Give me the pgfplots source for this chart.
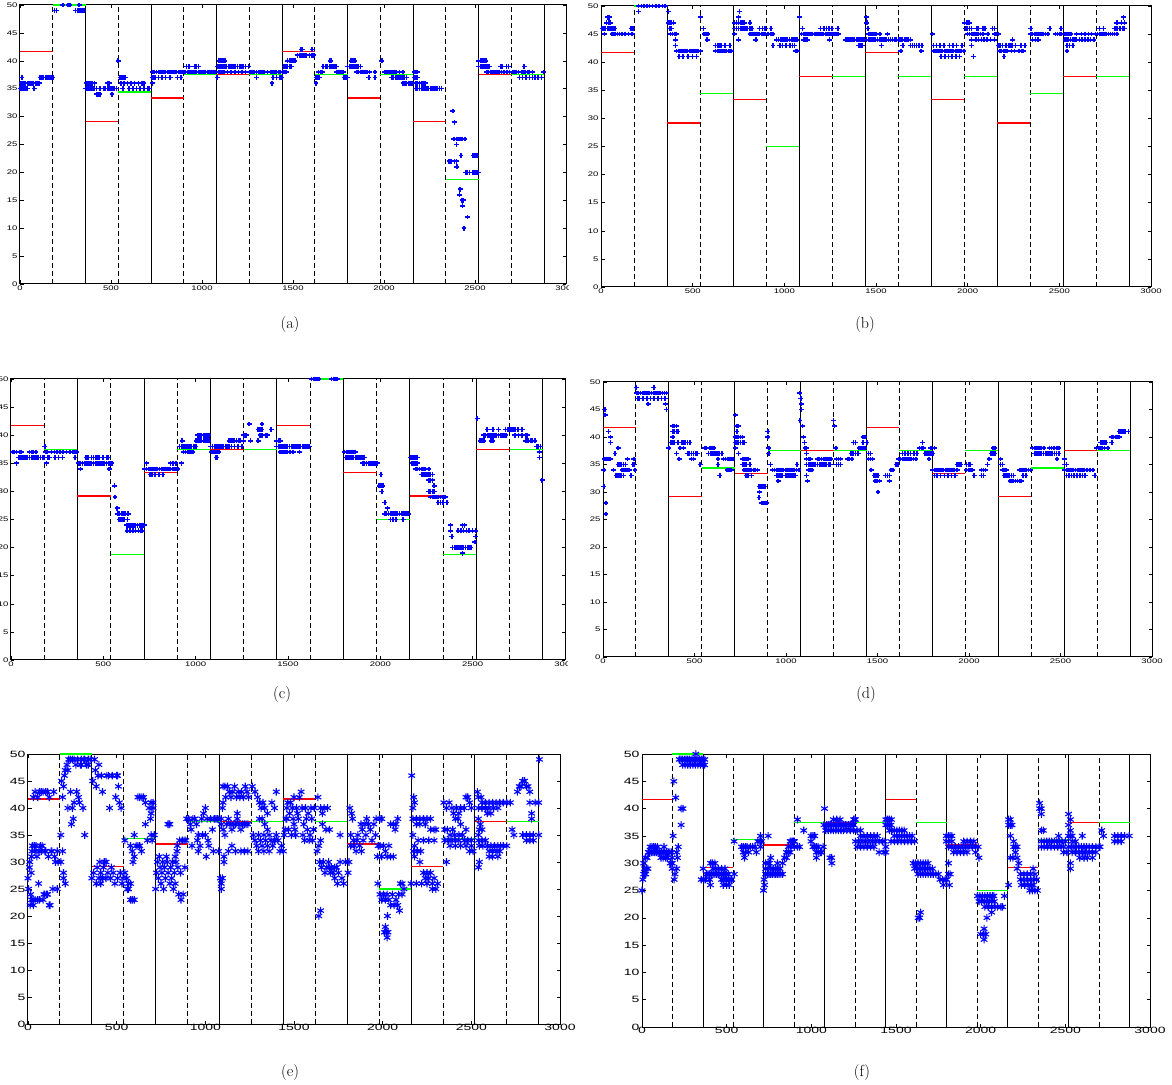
\documentclass[border=0pt]{standalone}
\usepackage{fontspec}
\usepackage{pgfplots}
\usepackage{pgfplotstable}
\usepackage{graphicx}
\pgfplotsset{compat=1.18}
\newfontfamily\hel{Liberation Sans}

\pgfplotstableread{
x y
360 0
360 50
360 nan
720 0
720 50
720 nan
1080 0
1080 50
1080 nan
1440 0
1440 50
1440 nan
1800 0
1800 50
1800 nan
2160 0
2160 50
2160 nan
2520 0
2520 50
2520 nan
2880 0
2880 50
}\solidtab
\pgfplotstableread{
x y
180 0
180 50
180 nan
540 0
540 50
540 nan
900 0
900 50
900 nan
1260 0
1260 50
1260 nan
1620 0
1620 50
1620 nan
1980 0
1980 50
1980 nan
2340 0
2340 50
2340 nan
2700 0
2700 50
}\dashtab
\pgfplotstableread{
x y
0 41.67
180 41.67
180 nan
360 29.17
540 29.17
540 nan
720 33.33
900 33.33
900 nan
1080 37.5
1260 37.5
1260 nan
1440 41.67
1620 41.67
1620 nan
1800 33.33
1980 33.33
1980 nan
2160 29.17
2340 29.17
2340 nan
2520 37.5
2700 37.5
}\redtab

\definecolor{mred}{rgb}{1,0,0}
\definecolor{mgreen}{rgb}{0,1,0}

\pgfplotsset{
  panel/.style={scale only axis, anchor=south west,
    xmin=0, xmax=3000, ymin=0, ymax=50,
    xtick={0,500,...,3000}, ytick={0,5,...,50},
    tick align=inside, major tick length=3.5pt,
    axis line style={line width=1pt, black},
    tick style={line width=0.5pt, black},
    clip=false, unbounded coords=jump,
    /pgf/number format/assume math mode=true,
    /pgf/number format/1000 sep={},
  },
  small/.style={tick label style={font=\hel\fontsize{9.5}{10}\selectfont},
    xticklabel={\scalebox{1}[0.7]{\pgfmathprintnumber{\tick}}},
    yticklabel={\scalebox{1}[0.7]{\pgfmathprintnumber{\tick}}},
    xticklabel style={yshift=2pt}, yticklabel style={xshift=1pt}},
  big/.style={tick label style={font=\hel\fontsize{14}{15}\selectfont},
    xticklabel={\scalebox{1}[0.65]{\pgfmathprintnumber{\tick}}},
    yticklabel={\scalebox{1}[0.65]{\pgfmathprintnumber{\tick}}},
    xticklabel style={yshift=3pt}, yticklabel style={xshift=1pt}},
  vsolid/.style={black, line width=0.9pt},
  vdash/.style={black, line width=0.9pt, dash pattern=on 5pt off 3pt},
  redl/.style={mred, line width=1.3pt},
  greenl/.style={mgreen, line width=1.3pt},
  bplus/.style={only marks, mark=+, blue, mark size=2.4pt, mark options={line width=1.6pt}},
  bstar/.style={only marks, mark=asterisk, blue, mark size=3.8pt, mark options={line width=1.1pt}},
}

\begin{document}
\begin{tikzpicture}
\useasboundingbox (0pt,0pt) rectangle (1172pt,1084pt);

% ---------------- (a)
\begin{axis}[panel, small, at={(20pt,800pt)}, width=546pt, height=279pt]
\addplot[vsolid] table {\solidtab};
\addplot[vdash] table {\dashtab};
\addplot[redl] table {\redtab};
\addplot[greenl] coordinates {(180,50)(360,50)(360,nan)(540,34.38)(720,34.38)(720,nan)(900,37.5)(1080,37.5)(1080,nan)(1260,37.5)(1440,37.5)(1440,nan)(1620,37.5)(1800,37.5)(1800,nan)(1980,37.5)(2160,37.5)(2160,nan)(2340,18.75)(2520,18.75)(2520,nan)(2700,37.5)(2880,37.5)};
\addplot[bplus] coordinates {
(0,35)(5,35)(10,35)(15,35)(20,35)(25,35)(30,35)(35,35)(40,35)
(5,36)(12,36)(20,36)(28,36)(45,36)(55,36)(65,36)(75,36)(85,36)(95,36)(105,36)
(10,37)(78,35)(110,37)(120,37)(130,37)(140,37)(150,37)(160,37)(170,37)(180,37)
(190,49)(200,49)(235,50)(265,50)(275,50)(325,50)(305,49)(315,49)(325,49)(335,49)(345,49)(352,49)
(362,35)(370,35)(380,35)(390,35)(400,35)(410,35)(420,35)(440,35)(460,35)(470,35)(480,35)(490,35)(500,35)(510,35)(520,35)(530,35)
(365,36)(375,36)(385,36)(395,36)(410,36)(420,34)(430,34)(440,34)(480,36)(490,36)(505,34)(540,40)
(550,37)(560,37)(570,37)(580,37)(555,36)(570,36)(590,36)(610,36)(630,36)(650,36)(670,36)(680,36)(600,35)(620,35)(640,35)(660,35)(680,35)(700,35)(710,35)(565,35)
(730,38)(740,38)(750,38)(760,38)(770,38)(780,38)(790,38)(800,38)(810,38)(820,38)(830,38)(840,38)(850,38)(860,38)(870,38)(880,38)(890,38)(900,38)
(725,37)(735,37)(745,37)(760,37)(780,37)(800,37)(825,37)(865,37)(885,37)(728,36)
(915,39)(930,39)(960,39)(970,39)(980,39)
(910,38)(920,38)(930,38)(940,38)(950,38)(960,38)(970,38)(980,38)(990,38)(1000,38)(1010,38)(1020,38)(1030,38)(1040,38)(1050,38)(1060,38)(1070,38)
(1095,40)(1105,40)(1115,40)(1125,40)
(1085,39)(1095,39)(1105,39)(1115,39)(1125,39)(1135,39)(1145,39)(1155,39)(1165,39)(1175,39)(1185,39)(1195,39)(1205,39)(1215,39)(1225,39)(1240,39)(1255,39)
(1090,38)(1100,38)(1110,38)(1120,38)(1140,38)(1160,38)(1180,38)(1200,38)(1220,38)(1240,38)(1083,37)
(1265,38)(1275,38)(1285,38)(1300,38)(1310,38)(1320,38)(1330,38)(1340,38)(1360,38)(1380,38)(1390,38)(1400,38)(1410,38)(1420,38)(1430,38)
(1300,37)(1390,37)(1410,37)(1430,37)(1385,36)
(1440,37)(1445,38)(1455,38)(1465,38)(1450,39)(1460,39)(1470,39)(1480,39)(1490,39)(1470,40)(1480,40)(1490,40)(1500,40)(1510,40)
(1525,41)(1535,41)(1545,41)(1555,41)(1565,41)(1575,41)(1590,41)(1605,41)(1615,41)(1545,42)(1552,42)(1605,42)
(1626,36)(1626,37)(1636,37)(1646,37)(1650,38)(1660,38)(1665,39)(1680,39)(1690,39)(1700,39)(1710,39)(1720,39)(1730,39)(1740,39)(1703,40)(1708,40)
(1738,38)(1748,38)(1758,38)(1768,38)(1778,38)(1780,37)(1790,37)(1798,37)(1640,38)
(1800,39)(1810,39)(1820,39)(1830,39)(1840,39)(1850,39)(1860,39)(1870,39)(1820,40)(1830,40)(1840,40)
(1850,38)(1860,38)(1870,38)(1880,38)(1890,38)(1900,38)(1910,38)(1920,38)(1917,37)(1951,37)(1951,38)
(1988,40)(2002,38)(2012,38)(2022,38)(2032,38)(2045,38)(2055,38)(2065,38)(2085,38)(2104,38)
(2043,37)(2053,37)(2063,37)(2073,37)(2083,37)(2093,37)(2103,37)(2113,37)(2124,37)(2104,36)(2114,36)(2124,36)(2134,36)(2144,36)(2154,36)
(2165,38)(2175,38)(2185,38)(2165,37)(2175,37)(2185,37)(2175,36)(2185,36)(2195,36)(2205,36)(2215,36)(2226,36)
(2175,35)(2185,35)(2195,35)(2205,35)(2215,35)(2225,35)(2235,35)(2245,35)(2255,35)(2265,35)(2275,35)(2285,35)(2295,35)(2305,35)(2317,35)
(2378,31)(2388,29)(2384,26)(2398,26)(2408,26)(2418,26)(2428,26)(2445,26)(2398,25)(2423,23)(2358,22)(2368,22)(2388,22)(2398,22)(2400,21)
(2419,17)(2415,16)(2429,15)(2435,15)(2432,14)(2459,12)(2439,10)(2449,20)(2459,20)(2469,20)(2490,20)(2500,20)(2510,20)(2520,20)(2490,23)(2500,23)(2510,23)
(2520,40)(2530,40)(2540,40)(2550,40)(2560,40)(2520,39)(2530,39)(2540,39)(2550,39)(2560,39)(2570,39)(2580,39)
(2565,38)(2575,38)(2585,38)(2595,38)(2605,38)(2615,38)(2625,38)(2635,38)(2645,38)(2660,38)(2675,38)(2690,38)(2642,39)(2652,39)(2672,39)(2683,39)
(2705,38)(2715,38)(2725,38)(2740,38)(2755,38)(2765,38)(2775,38)(2790,38)(2800,38)(2815,38)(2770,39)
(2745,37)(2760,37)(2780,37)(2800,37)(2815,37)(2830,37)(2845,37)(2866,37)(2876,38)
};
\end{axis}

% ---------------- (b)
\begin{axis}[panel, small, at={(601pt,797pt)}, width=550pt, height=281pt]
\addplot[vsolid] table {\solidtab};
\addplot[vdash] table {\dashtab};
\addplot[redl] table {\redtab};
\addplot[greenl] coordinates {(180,50)(360,50)(360,nan)(540,34.38)(720,34.38)(720,nan)(900,25)(1080,25)(1080,nan)(1260,37.5)(1440,37.5)(1440,nan)(1620,37.5)(1800,37.5)(1800,nan)(1980,37.5)(2160,37.5)(2160,nan)(2340,34.38)(2520,34.38)(2520,nan)(2700,37.5)(2880,37.5)};
\addplot[bplus] coordinates {
(5,46)(15,46)(25,46)(35,46)(45,46)(55,46)(65,46)(75,46)(30,47)(40,47)(50,47)(35,48)(45,48)
(20,45)(60,45)(70,45)(80,45)(90,45)(100,45)(115,45)(130,45)(150,45)(170,45)(165,46)(175,46)
(205,49)(205,50)(220,50)(235,50)(250,50)(265,50)(280,50)(300,50)(315,50)(335,50)(350,50)
(369,49)(365,47)(375,47)(385,47)(395,47)(375,46)(385,46)(380,45)(390,45)(400,45)(410,45)(406,44)(406,43)
(412,42)(422,42)(432,42)(442,42)(452,42)(462,42)(472,42)(482,42)(492,42)(502,42)(512,42)(522,42)(532,42)(542,42)
(427,41)(447,41)(475,41)(500,41)(521,41)
(542,48)(558,46)(562,45)(572,45)(583,45)(579,44)
(625,43)(635,43)(645,43)(655,43)(677,43)(704,43)
(625,42)(635,42)(645,42)(655,42)(665,42)(675,42)(685,42)(695,42)(705,42)(712,42)
(729,45)(729,47)(739,47)(749,47)(760,47)(770,47)(781,47)(750,48)(756,49)(729,46)(740,46)(750,46)(760,46)(770,46)(780,46)(790,46)(800,46)(813,46)(823,46)(813,47)
(813,45)(825,45)(835,45)(845,45)(855,45)(865,45)(875,45)(885,45)(895,45)(910,45)(925,45)(938,45)(750,44)(844,44)(865,46)(880,46)(896,46)
(938,43)(958,44)(968,44)(978,44)(988,44)(998,44)(1008,44)(1018,44)(1028,44)(1038,44)(1048,44)(1058,44)(1068,44)
(975,43)(990,43)(1010,43)(1030,43)(1045,43)(1055,43)(1063,42)(1070,42)(927,45)(927,46)
(1083,48)(1098,46)(1094,45)(1104,45)(1114,45)(1124,45)(1134,45)(1144,45)(1154,45)(1164,45)(1174,45)(1184,45)(1194,45)(1204,45)(1214,45)(1224,45)(1234,45)(1244,45)(1254,45)(1264,45)
(1104,44)(1114,44)(1125,44)(1198,46)(1215,46)(1230,46)(1245,46)(1260,46)(1246,44)
(1292,46)(1276,45)(1286,45)(1296,45)(1333,44)(1343,44)(1353,44)(1363,44)(1373,44)(1383,44)(1393,44)(1403,44)(1413,44)(1423,44)(1433,44)(1406,43)(1418,43)(1427,43)
(1448,48)(1450,47)(1455,46)(1458,45)(1468,45)(1478,45)(1488,45)(1500,45)(1521,45)
(1448,44)(1458,44)(1468,44)(1478,44)(1488,44)(1498,44)(1508,44)(1518,44)(1528,44)(1538,44)(1548,44)(1558,44)(1568,44)(1578,44)(1590,44)(1600,44)(1610,44)(1625,44)(1531,43)(1563,45)
(1635,44)(1645,44)(1655,44)(1665,44)(1675,44)(1688,44)(1646,43)(1688,43)(1700,43)(1710,43)(1720,43)(1735,43)(1750,43)(1635,42)(1746,42)
(1808,45)(1813,43)(1830,43)(1850,43)(1870,43)(1900,43)(1920,43)(1940,43)(1969,43)
(1813,42)(1823,42)(1833,42)(1843,42)(1853,42)(1863,42)(1873,42)(1883,42)(1893,42)(1903,42)(1913,42)(1923,42)(1933,42)(1943,42)(1953,42)(1965,42)(1979,42)
(1855,41)(1875,41)(1895,41)(1915,41)(1935,41)(1955,41)
(1983,47)(1993,47)(2003,47)(2010,47)(1990,46)(2000,46)(2010,46)(2020,46)(2050,46)(2060,46)(2085,46)(2094,46)
(2000,45)(2010,45)(2020,45)(2030,45)(2040,45)(2050,45)(2060,45)(2070,45)(2083,45)(2021,44)(2021,43)(2031,41)
(2045,44)(2060,44)(2075,44)(2090,44)(2105,44)(2125,44)(2135,46)(2146,46)(2146,45)(2156,45)(2168,45)(2146,44)(2110,45)
(2167,43)(2177,43)(2190,43)(2210,43)(2225,43)(2235,43)(2245,43)(2260,43)(2290,43)(2313,43)
(2175,42)(2185,42)(2195,42)(2205,42)(2215,42)(2240,42)(2255,42)(2280,42)(2295,42)(2305,42)(2198,41)(2244,44)
(2344,46)(2344,45)(2354,45)(2364,45)(2374,45)(2384,45)(2394,45)(2404,45)(2414,45)(2424,45)(2437,45)(2354,44)(2370,44)(2385,44)
(2448,46)(2479,45)(2489,45)(2500,45)(2510,45)(2510,46)
(2531,45)(2542,45)(2552,45)(2563,45)(2531,44)(2541,44)(2551,44)(2561,44)(2571,44)(2581,44)(2591,44)(2610,44)(2625,44)(2640,44)(2655,44)(2670,44)(2688,44)
(2542,43)(2556,43)(2573,43)(2542,42)(2594,45)(2620,45)(2640,45)(2660,45)(2675,45)(2698,45)
(2708,45)(2718,45)(2728,45)(2738,45)(2748,45)(2758,45)(2768,45)(2778,45)(2790,45)(2800,45)(2813,45)(2719,46)(2740,46)(2813,47)
(2802,46)(2815,46)(2830,46)(2845,46)(2854,46)(2850,48)(2855,47)(2840,47)
};
\end{axis}

% ---------------- (c)
\begin{axis}[panel, small, at={(11pt,424pt)}, width=554pt, height=281pt]
\addplot[vsolid] table {\solidtab};
\addplot[vdash] table {\dashtab};
\addplot[redl] table {\redtab};
\addplot[greenl] coordinates {(180,37.5)(360,37.5)(360,nan)(540,18.75)(720,18.75)(720,nan)(900,37.5)(1080,37.5)(1080,nan)(1260,37.5)(1440,37.5)(1440,nan)(1620,50)(1800,50)(1800,nan)(1980,25)(2160,25)(2160,nan)(2340,18.75)(2520,18.75)(2520,nan)(2700,37.5)(2880,37.5)};
\addplot[bplus] coordinates {
(30,35)(10,37)(20,37)(30,37)(45,37)(55,37)(40,36)(50,36)(60,36)(70,36)(80,36)(90,36)(100,36)(110,36)(120,36)(130,36)(140,36)(150,36)(160,36)(170,36)(179,36)(100,37)(110,37)(120,37)(135,37)
(183,38)(192,35)(188,37)(198,37)(208,36)(220,37)(235,37)(250,37)(238,36)(258,36)(278,36)(265,37)(280,37)(300,37)(320,37)(335,37)(345,37)(357,37)(347,36)(200,36)
(367,35)(377,35)(387,35)(397,35)(407,35)(417,35)(427,35)(437,35)(447,35)(457,35)(467,35)(477,35)(487,35)(497,35)(507,35)(517,35)(527,35)(537,35)(546,35)
(407,36)(417,36)(437,36)(447,36)(457,36)(467,36)(477,36)(497,36)(517,36)(526,36)(377,34)(532,34)
(560,31)(563,29)(575,27)(578,26)(588,26)(598,26)(608,26)(618,26)(635,26)(585,25)(595,25)(605,25)(615,25)(630,25)
(625,24)(635,24)(645,24)(655,24)(665,24)(675,24)(685,24)(695,24)(705,24)(715,24)(724,24)(628,23)(645,23)(660,23)(675,23)(690,23)(705,23)(712,23)
(734,35)(724,34)(734,34)(744,34)(754,34)(764,34)(774,34)(784,34)(794,34)(804,34)(814,34)(824,34)(834,34)(844,34)(854,34)(864,34)(874,34)(884,34)(894,34)(903,34)
(754,33)(764,33)(780,33)(800,33)(823,33)(863,35)(878,35)(893,35)
(923,35)(913,38)(923,38)(933,38)(943,38)(953,38)(963,38)(975,38)(990,38)(1002,38)(927,39)(935,37)(945,37)(955,37)(965,37)(975,37)(985,37)
(1002,39)(1012,39)(1022,39)(1032,39)(1042,39)(1052,39)(1062,39)(1071,39)(1012,40)(1022,40)(1032,40)(1042,40)(1052,40)(1062,40)(1071,40)
(1081,38)(1091,38)(1101,38)(1111,38)(1121,38)(1131,38)(1141,38)(1151,38)(1161,38)(1171,38)(1181,38)(1195,38)(1210,38)(1230,38)(1250,38)
(1085,37)(1095,37)(1105,37)(1115,37)(1125,37)(1111,36)(1116,36)(1181,39)(1191,39)(1201,39)(1211,39)(1221,39)(1231,39)(1240,39)(1260,39)(1260,40)
(1266,40)(1276,40)(1290,42)(1296,39)(1339,41)(1349,41)(1359,41)(1359,42)(1349,40)(1359,40)(1339,39)(1389,40)(1409,41)(1380,40)
(1438,39)(1448,39)(1458,39)(1438,38)(1448,38)(1458,38)(1468,38)(1478,38)(1488,38)(1498,38)(1508,38)(1518,38)(1528,38)(1538,38)(1548,38)(1558,38)(1568,38)(1578,38)(1588,38)(1598,38)(1608,38)(1617,38)
(1458,37)(1468,37)(1478,37)(1488,37)(1498,37)(1510,37)(1528,37)(1563,37)
(1627,50)(1637,50)(1647,50)(1657,50)(1667,50)(1736,50)(1746,50)(1756,50)(1766,50)
(1806,37)(1816,37)(1826,37)(1836,37)(1846,37)(1856,37)(1865,37)(1815,36)(1825,36)(1835,36)(1845,36)(1855,36)(1865,36)(1875,36)(1885,36)(1895,36)(1905,36)(1915,36)
(1905,35)(1915,35)(1925,35)(1935,35)(1945,35)(1955,35)(1965,35)(1975,35)(1984,35)
(2004,33)(1994,31)(2004,31)(2014,31)(2008,30)(2024,28)(2038,27)(2024,26)(2034,26)(2044,26)(2054,26)(2064,26)(2074,26)(2084,26)(2094,26)(2104,26)(2114,26)(2124,26)(2134,26)(2144,26)(2153,26)
(2054,25)(2070,25)(2085,25)(2124,25)
(2163,36)(2173,36)(2183,36)(2193,36)(2202,36)(2173,35)(2183,35)(2193,35)(2202,35)(2192,34)(2202,34)(2212,34)(2222,34)(2232,34)(2242,34)(2262,34)
(2222,33)(2232,33)(2242,33)(2252,33)(2262,33)(2272,33)(2282,33)(2262,32)(2272,32)(2282,32)(2292,31)(2262,30)(2272,30)(2282,30)(2292,30)
(2272,29)(2282,29)(2292,29)(2302,29)(2312,29)(2325,29)(2340,29)(2351,29)(2312,28)(2325,28)(2340,28)(2361,28)
(2381,24)(2381,23)(2387,22)(2391,20)(2401,20)(2411,20)(2421,20)(2431,20)(2441,20)(2451,20)(2461,20)(2471,20)(2481,20)(2490,20)
(2421,23)(2436,23)(2451,23)(2466,23)(2480,23)(2500,23)(2445,24)(2455,24)(2444,19)(2512,21)(2516,22)(2516,23)(2510,21)
(2524,43)(2540,39)(2550,39)(2560,39)(2600,39)(2609,39)(2560,40)(2570,40)(2580,40)(2590,40)(2600,40)(2610,40)(2620,40)(2630,40)(2640,40)(2650,40)(2660,40)(2670,40)(2679,40)
(2579,41)(2609,41)(2639,41)(2678,41)(2690,41)
(2698,41)(2708,41)(2718,41)(2728,41)(2745,41)(2768,41)(2728,40)(2748,40)(2768,40)(2785,40)(2795,40)(2788,39)(2800,39)(2815,39)(2825,39)(2837,39)
(2847,38)(2857,38)(2867,38)(2862,37)(2862,36)(2877,32)
};
\end{axis}

% ---------------- (d)
\begin{axis}[panel, small, at={(603pt,427pt)}, width=549pt, height=275pt]
\addplot[vsolid] table {\solidtab};
\addplot[vdash] table {\dashtab};
\addplot[redl] table {\redtab};
\addplot[greenl] coordinates {(540,34.38)(720,34.38)(720,nan)(900,37.5)(1080,37.5)(1080,nan)(1260,37.5)(1440,37.5)(1440,nan)(1620,37.5)(1800,37.5)(1800,nan)(1980,37.5)(2160,37.5)(2160,nan)(2340,34.38)(2520,34.38)(2520,nan)(2700,37.5)(2880,37.5)};
\addplot[bplus] coordinates {
(4,31)(10,45)(12,44)(6,36)(16,36)(26,36)(36,36)(41,36)(4,34)(16,28)(16,26)(31,41)(41,40)(41,39)(38,36)(58,34)(72,33)(82,33)(92,33)(102,33)(113,33)
(66,37)(82,38)(85,38)(82,35)(92,35)(102,35)(112,35)(124,35)(105,34)(115,34)(125,34)(135,34)(145,34)(134,36)(154,33)(165,35)(172,35)(168,36)(175,34)
(181,49)(185,48)(195,48)(205,48)(215,48)(225,48)(235,48)(245,48)(255,48)(265,48)(275,48)(285,48)(295,48)(305,48)(315,48)(325,48)(335,48)(346,48)
(190,47)(200,47)(220,47)(240,47)(260,47)(280,47)(300,47)(320,47)(340,47)(247,46)(278,49)(342,46)(346,45)
(360,38)(381,42)(391,42)(401,42)(381,41)(391,41)(401,41)(410,41)(381,40)(371,39)(381,39)(391,39)(411,39)(431,39)(441,39)(451,39)(461,39)(474,39)
(401,37)(416,36)(422,38)(440,38)(463,37)(473,37)(483,37)(494,37)(505,37)(515,37)(484,36)(494,36)(531,35)
(556,38)(566,38)(586,38)(596,38)(607,38)(577,37)(587,37)(597,37)(607,37)(617,37)(627,37)(637,37)(649,37)(628,36)(628,35)(638,33)(679,34)(690,34)(700,34)
(659,36)(670,36)(680,36)(690,36)(700,36)(710,36)
(725,44)(731,42)(741,42)(731,41)(721,40)(731,40)(741,40)(751,40)(762,40)(721,39)(731,39)(741,39)(751,39)(762,39)(771,39)(725,38)(741,37)
(762,36)(772,36)(782,36)(793,36)(762,35)(772,35)(782,35)(803,35)(772,34)(782,34)(792,34)(802,34)(812,34)(822,34)(832,34)(844,34)(782,33)(792,33)(812,33)
(854,31)(864,31)(875,31)(885,31)(856,30)(852,29)(865,28)(875,28)(885,28)(896,28)
(900,41)(900,40)(906,38)(906,37)(916,35)(927,34)(937,34)(947,34)(957,34)(967,34)(977,34)(987,34)(997,34)(1007,34)(1017,34)(1027,34)(1037,34)(1047,34)(1057,34)(1071,34)
(947,33)(957,33)(967,33)(977,33)(997,33)(1007,33)(1017,33)(1027,33)(1037,33)(1050,33)(957,32)(1060,35)
(1075,48)(1081,47)(1085,46)(1085,45)(1077,43)(1091,42)(1095,40)(1101,39)(1105,38)(1112,38)(1112,37)(1112,36)(1122,36)(1132,36)
(1112,35)(1122,35)(1132,35)(1142,35)(1152,35)(1162,35)(1172,35)(1182,35)(1192,35)(1202,35)(1212,35)(1222,35)(1232,35)(1242,35)(1122,34)(1132,34)(1142,34)(1112,33)(1118,32)
(1174,36)(1184,36)(1194,36)(1204,36)(1214,36)(1224,36)(1235,36)(1245,36)(1260,43)(1264,42)
(1272,38)(1276,36)(1286,36)(1297,36)(1276,35)(1286,35)(1297,35)(1338,36)(1348,36)(1359,36)(1355,37)(1365,37)(1379,37)(1369,39)(1379,39)
(1400,38)(1410,38)(1420,38)(1431,38)(1421,40)(1431,40)(1421,39)(1394,37)
(1441,39)(1451,37)(1461,37)(1451,36)(1461,36)(1472,36)(1466,34)(1482,33)(1492,33)(1503,33)(1487,32)(1497,32)(1510,32)(1503,30)(1544,33)(1554,33)(1565,33)(1565,32)(1575,34)(1585,34)(1602,35)(1612,35)(1616,36)
(1626,36)(1636,36)(1646,36)(1656,36)(1666,36)(1676,36)(1686,36)(1696,36)(1709,36)(1636,37)(1650,37)(1665,37)(1680,37)(1700,37)(1715,37)(1729,38)(1740,38)(1750,38)(1746,39)
(1760,37)(1770,37)(1780,37)(1791,37)(1791,38)(1781,36)
(1812,38)(1802,37)(1801,34)(1811,34)(1821,34)(1831,34)(1841,34)(1851,34)(1861,34)(1871,34)(1881,34)(1891,34)(1901,34)(1911,34)(1921,34)(1935,34)
(1812,33)(1825,33)(1845,33)(1865,33)(1885,33)(1905,33)(1925,33)(1935,35)(1945,35)(1956,35)
(1987,35)(1997,35)(2007,35)(1987,34)(1997,34)(2007,34)(2017,34)(2028,33)(2069,34)(2079,34)(2090,34)(2080,33)(2069,33)(2100,35)(2110,36)(2121,37)(2131,37)(2141,37)(2131,38)(2141,38)
(2172,36)(2172,35)(2182,35)(2182,34)(2192,34)(2203,34)(2192,33)(2202,33)(2212,33)(2222,33)(2232,33)(2244,33)(2224,32)(2234,32)(2244,32)(2254,32)(2264,32)(2275,32)(2285,32)
(2275,34)(2285,34)(2295,34)(2305,34)(2315,34)(2325,34)(2337,34)(2295,33)(2310,33)
(2347,38)(2357,38)(2367,38)(2377,38)(2387,38)(2397,38)(2410,38)(2440,38)(2450,38)(2465,38)(2480,38)(2491,38)
(2357,37)(2367,37)(2377,37)(2387,37)(2397,37)(2407,37)(2417,37)(2427,37)(2437,37)(2447,37)(2457,37)(2467,37)(2477,37)(2491,37)(2481,36)
(2522,36)(2522,35)(2532,35)(2522,34)(2532,34)(2542,34)(2552,34)(2562,34)(2572,34)(2582,34)(2592,34)(2602,34)(2612,34)(2622,34)(2632,34)(2645,34)(2660,34)(2677,34)
(2532,33)(2545,33)(2560,33)(2575,33)(2590,33)(2605,33)(2620,33)(2635,33)(2687,33)
(2697,38)(2707,38)(2717,38)(2727,38)(2740,38)(2759,38)(2718,39)(2728,39)(2738,39)(2748,39)(2780,40)(2790,40)(2800,40)(2810,40)(2821,40)(2821,41)(2831,41)(2841,41)(2851,41)(2872,41)(2780,39)
};
\end{axis}

% ---------------- (e)
\begin{axis}[panel, big, at={(28pt,60pt)}, width=532pt, height=270pt]
\addplot[vsolid] table {\solidtab};
\addplot[vdash] table {\dashtab};
\addplot[redl] table {\redtab};
\addplot[greenl] coordinates {(180,50)(360,50)(360,nan)(540,34.38)(720,34.38)(720,nan)(900,37.5)(1080,37.5)(1080,nan)(1260,37.5)(1440,37.5)(1440,nan)(1620,37.5)(1800,37.5)(1800,nan)(1980,25)(2160,25)(2160,nan)(2340,34.38)(2520,34.38)(2520,nan)(2700,37.5)(2880,37.5)};
\addplot[bstar] coordinates {
(0,27)(3,25)(8,29)(10,30)(12,22)(15,24)(18,28)(20,31)(22,32)(25,33)(28,23)(30,22)(35,33)(40,32)(45,33)(50,31)(55,23)(60,26)(62,32)(70,33)(75,32)(80,33)(85,23)(90,24)
(95,32)(100,32)(105,24)(110,24)(115,31)(120,22)(125,22)(130,32)(135,32)(140,25)(150,31)(155,30)(165,32)(30,42)(40,43)(55,42)(65,43)(75,43)(85,43)(100,43)(120,42)(110,43)(145,43)
(165,25)(20,23)(40,23)(65,23)(95,24)(170,30)
(185,35)(190,45)(195,42)(200,44)(205,46)(210,47)(220,48)(225,40)(230,49)(240,43)(245,37)(250,40)(255,38)(260,49)(270,48)(275,43)(280,49)(285,42)(290,41)(295,48)(300,49)
(310,40)(320,35)(330,48)(340,49)(350,49)(195,32)(200,27)(210,26)(185,30)(200,28)(300,48)(315,49)(340,48)(260,41)(225,47)(240,49)(250,49)(320,49)
(360,27)(370,28)(375,49)(380,47)(385,26)(390,29)(395,46)(400,27)(405,30)(410,28)(415,46)(420,27)(425,29)(430,30)(440,27)(445,46)(450,28)(460,40)(465,27)(470,29)(475,46)
(480,28)(490,26)(495,42)(500,46)(505,27)(510,44)(515,41)(520,28)(525,40)(530,26)(535,27)(365,45)(385,44)(400,48)(420,43)(505,46)(440,30)(410,26)(455,46)
(546,28)(546,34)(557,27)(567,26)(567,25)(578,26)(578,23)(588,23)(599,23)(578,33)(588,32)(599,31)(592,30)(599,35)(610,33)(620,33)(630,33)(620,42)(630,42)(642,42)(652,42)
(662,41)(662,37)(673,34)(683,40)(694,41)(705,40)(694,39)(694,35)(690,38)(705,41)(712,35)(700,34)(640,32)(560,25)
(720,25)(725,28)(730,30)(735,27)(740,31)(745,29)(750,26)(755,28)(760,30)(765,25)(770,29)(775,27)(780,31)(789,37)(795,37)(800,37)(785,30)(790,28)(800,26)(805,29)(810,27)
(815,30)(820,25)(825,28)(830,26)(835,30)(840,32)(842,33)(845,29)(850,24)(855,34)(860,28)(863,23)(870,34)(880,34)(890,34)(885,29)(875,24)(830,31)
(895,38)(905,38)(915,37)(920,36)(925,33)(930,38)(940,38)(950,37)(955,34)(960,35)(970,33)(980,38)(990,39)(1000,40)(1000,35)(1010,38)(1015,34)(1020,33)(1030,38)(1040,36)
(1045,32)(1050,38)(1060,38)(1070,38)(1075,32)(985,35)(1005,31)(960,32)
(1085,27)(1090,26)(1090,25)(1096,27)(1096,40)(1100,44)(1110,44)(1115,42)(1125,44)(1135,43)(1145,42)(1155,43)(1165,44)(1175,42)(1185,43)(1195,42)(1205,43)(1215,42)(1225,44)(1235,43)(1244,42)
(1090,37)(1100,36)(1110,35)(1120,37)(1130,38)(1140,37)(1150,36)(1160,37)(1170,37)(1180,38)(1190,37)(1200,36)(1210,37)(1220,37)(1230,37)(1240,37)
(1105,31)(1105,30)(1130,32)(1150,33)(1170,32)(1200,32)(1220,32)(1240,32)(1090,38)(1100,41)(1180,39)
(1265,44)(1280,43)(1295,42)(1305,41)(1315,40)(1325,41)(1335,40)(1305,38)(1320,38)(1335,37)(1350,39)(1350,36)(1270,35)(1280,34)(1290,33)(1300,35)(1310,34)(1320,33)(1330,35)
(1340,34)(1350,33)(1360,35)(1370,34)(1380,33)(1390,34)(1400,35)(1410,34)(1420,32)(1430,33)(1440,32)(1300,32)(1330,32)(1360,32)(1400,43)(1375,41)(1390,40)
(1445,35)(1450,36)(1455,38)(1460,40)(1465,41)(1470,36)(1475,39)(1480,41)(1485,35)(1490,40)(1495,38)(1500,37)(1505,36)(1510,35)(1515,40)(1520,39)(1525,38)(1530,42)(1540,43)
(1545,40)(1550,35)(1555,37)(1560,34)(1565,40)(1570,38)(1575,36)(1580,39)(1585,34)(1590,35)(1595,40)(1600,38)(1605,34)(1610,36)(1615,40)(1500,42)(1460,38)
(1635,42)(1640,33)(1645,30)(1650,40)(1655,29)(1660,37)(1665,30)(1670,40)(1675,28)(1680,36)(1685,29)(1690,40)(1695,30)(1700,36)(1705,28)(1710,29)(1720,28)(1730,27)(1740,29)
(1745,26)(1750,28)(1760,35)(1770,27)(1780,26)(1790,30)(1650,21)(1640,20)(1650,34)(1630,32)(1660,39)(1700,29)(1730,29)(1760,30)
(1805,28)(1810,30)(1815,40)(1820,35)(1825,39)(1830,38)(1835,34)(1840,33)(1850,32)(1855,34)(1860,35)(1870,33)(1878,37)(1885,36)(1890,34)(1900,37)(1905,35)(1910,38)(1920,37)
(1930,36)(1940,34)(1950,37)(1960,35)(1963,38)(1970,31)(1975,33)(1880,32)(1820,33)
(1985,38)(1995,38)(1985,33)(1995,31)(2005,33)(2015,32)(2025,31)(2035,33)(2045,31)(2060,31)(2045,37)(2060,37)(2075,37)(2085,38)(2070,36)(1973,26)(1985,24)(1995,23)(2005,24)
(2015,23)(2025,24)(2035,23)(2045,22)(2055,24)(2065,22)(2075,23)(2085,22)(2095,21)(2027,20)(2015,18)(2010,17)(2020,17)(2030,17)(2025,16)(2100,26)(2110,26)(2120,25)(2090,24)(2110,24)
(2164,46)(2175,42)(2180,41)(2170,40)(2170,38)(2190,38)(2210,38)(2230,38)(2250,38)(2270,38)(2190,37)(2210,37)(2240,37)(2270,36)(2290,36)(2300,36)(2170,35)(2200,34)(2230,34)
(2260,34)(2290,34)(2180,33)(2175,32)(2195,32)(2215,32)(2180,31)(2210,30)(2230,28)(2250,28)(2270,28)(2240,27)(2260,27)(2290,27)(2160,26)(2190,26)(2220,26)(2250,26)(2280,26)
(2280,25)(2300,25)(2310,26)
(2345,41)(2360,40)(2375,41)(2390,40)(2400,39)(2415,40)(2430,39)(2440,40)(2460,40)(2470,42)(2480,42)(2490,41)(2500,40)(2410,38)(2425,38)(2440,37)(2350,36)(2365,36)(2395,36)
(2380,35)(2405,35)(2430,35)(2450,35)(2350,34)(2370,34)(2390,34)(2410,34)(2430,34)(2460,34)(2480,34)(2500,34)(2380,33)(2410,33)(2440,33)(2470,33)(2500,33)(2490,32)(2510,32)(2360,30)(2470,36)
(2534,43)(2540,42)(2555,42)(2560,41)(2580,41)(2600,41)(2620,41)(2640,41)(2660,41)(2540,40)(2560,40)(2580,40)(2600,40)(2625,40)(2650,40)(2590,39)(2610,39)(2540,38)(2550,37)
(2545,36)(2540,35)(2540,34)(2560,34)(2580,34)(2545,33)(2565,33)(2590,33)(2610,33)(2630,33)(2650,33)(2665,33)(2600,32)(2620,32)(2640,32)(2660,32)(2600,31)(2620,31)(2650,31)
(2545,30)(2540,29)(2560,36)(2680,41)(2680,33)
(2700,41)(2720,41)(2730,36)(2740,35)(2760,43)(2770,44)(2780,44)(2790,45)(2800,45)(2810,44)(2820,44)(2830,43)(2830,41)(2840,39)(2840,38)(2790,35)(2810,35)(2830,35)(2850,35)
(2810,34)(2830,34)(2850,34)(2700,33)(2860,41)(2884,49)(2880,35)(2880,41)
};
\end{axis}

% ---------------- (f)
\begin{axis}[panel, big, at={(642pt,57pt)}, width=508pt, height=273pt]
\addplot[vsolid] table {\solidtab};
\addplot[vdash] table {\dashtab};
\addplot[redl] table {\redtab};
\addplot[greenl] coordinates {(180,50)(360,50)(360,nan)(540,34.38)(720,34.38)(720,nan)(900,37.5)(1080,37.5)(1080,nan)(1260,37.5)(1440,37.5)(1440,nan)(1620,37.5)(1800,37.5)(1800,nan)(1980,25)(2160,25)(2160,nan)(2340,34.38)(2520,34.38)(2520,nan)(2700,37.5)(2880,37.5)};
\addplot[bstar] coordinates {
(0,25)(5,27)(10,28)(15,28)(22,28)(15,29)(25,29)(35,29)(10,30)(20,31)(30,31)(37,32)(45,32)(55,32)(65,32)(75,32)(85,32)(95,32)(105,32)(115,32)(125,32)(135,32)(145,32)
(48,33)(58,33)(68,33)(78,33)(91,33)(112,31)(125,31)(140,31)(155,32)(165,32)(175,32)(167,30)(178,30)(178,31)(178,29)(130,33)(150,31)
(184,35)(190,27)(195,28)(205,29)(210,31)(205,32)(214,33)(177,30)(188,45)(199,42)(231,40)(242,40)(231,37)
(220,49)(230,49)(240,49)(250,49)(260,49)(270,49)(280,49)(290,49)(300,49)(310,49)(320,49)(330,49)(340,49)(350,49)(360,49)(371,49)
(240,48)(255,48)(270,48)(285,48)(300,48)(315,48)(330,48)(345,48)(360,48)(370,48)(318,50)
(361,29)(350,27)(365,27)(375,27)(400,27)(404,26)(380,28)(390,28)(400,28)(410,28)(420,28)(430,28)(440,28)(450,28)(460,28)(470,28)(480,28)(490,28)(500,28)(510,28)
(405,30)(415,30)(430,30)(420,29)(435,29)(450,29)(470,29)(490,29)(470,27)(480,27)(490,27)(500,27)(510,27)(520,27)(530,27)(480,26)(500,26)(515,26)(545,28)
(544,34)(588,33)(598,33)(610,33)(620,33)(598,32)(610,32)(605,31)(653,33)(667,33)(675,32)(684,34)(696,34)(706,34)(700,35)(700,33)(640,33)(630,32)
(717,25)(724,26)(721,27)(730,28)(740,28)(750,28)(760,28)(770,28)(780,28)(790,28)(800,28)(810,28)(820,28)(830,28)(730,29)(745,29)(760,29)(775,29)(790,29)(803,29)
(730,30)(745,30)(752,30)(760,31)(745,35)(815,29)(830,30)(842,31)(853,31)(853,32)(864,32)(875,32)(864,33)(880,33)(875,34)(890,34)(896,34)(800,30)
(880,34)(900,34)(900,33)(918,33)(930,33)(918,38)(955,36)(998,35)(1010,35)(1020,35)(998,34)(1010,33)(1020,33)(1030,33)(1040,33)(1030,32)(1040,32)(1055,32)(1030,31)(1078,40)(1070,33)(1060,32)
(1075,37)(1090,37)(1100,37)(1110,37)(1120,37)(1130,37)(1140,37)(1150,37)(1160,37)(1170,37)(1180,37)(1190,37)(1200,37)(1210,37)(1220,37)(1230,37)(1240,37)(1250,37)
(1085,36)(1100,36)(1115,36)(1130,36)(1145,36)(1160,36)(1175,36)(1190,36)(1210,36)(1230,36)(1250,36)(1130,38)(1150,38)(1170,38)(1110,31)(1120,31)(1121,30)(1250,38)(1260,38)
(1257,38)(1290,35)(1310,35)(1330,35)(1350,35)(1370,35)(1260,34)(1280,34)(1300,34)(1320,34)(1340,34)(1360,34)(1380,34)(1400,34)(1420,34)(1430,34)
(1270,33)(1290,33)(1310,33)(1330,33)(1350,33)(1370,33)(1400,32)(1270,36)(1290,36)(1390,35)(1430,32)
(1440,38)(1450,38)(1460,38)(1473,38)(1440,37)(1450,37)(1460,37)(1470,37)(1462,36)(1475,36)(1490,36)(1505,36)(1520,36)(1535,36)(1548,36)
(1490,35)(1505,35)(1520,35)(1535,35)(1550,35)(1565,35)(1580,35)(1595,35)(1470,34)(1490,34)(1510,34)(1530,34)(1550,34)(1570,34)(1590,34)(1610,34)(1440,33)(1440,32)
(1602,30)(1615,30)(1630,30)(1645,30)(1660,30)(1675,30)(1689,30)(1610,29)(1625,29)(1640,29)(1655,29)(1670,29)(1685,29)(1700,29)(1715,29)
(1630,28)(1645,28)(1660,28)(1675,28)(1690,28)(1705,28)(1720,28)(1735,28)(1750,28)(1760,27)(1775,27)(1790,27)(1780,26)(1631,20)(1645,21)(1640,20)
(1797,35)(1810,35)(1820,35)(1830,35)(1797,34)(1810,34)(1830,34)(1810,33)(1830,33)(1850,33)(1870,33)(1890,33)(1910,33)(1930,33)(1950,33)(1970,33)(1985,33)
(1840,32)(1860,32)(1880,32)(1900,32)(1920,32)(1900,34)(1920,34)(1940,34)(1960,34)(1970,32)(1810,30)(1810,28)(1820,28)(1800,27)(1815,26)(1990,31)
(1981,24)(1995,24)(2010,24)(2025,24)(2040,24)(2055,24)(2070,24)(2078,24)(1990,23)(2005,23)(2020,23)(2035,23)(2050,23)(2065,23)(2080,23)
(2025,22)(2045,22)(2065,22)(2085,22)(2100,22)(2120,22)(2065,21)(2037,20)(2020,18)(2000,17)(2015,17)(2030,17)(2020,16)(2140,24)(2130,22)
(2165,38)(2175,38)(2165,37)(2175,37)(2185,37)(2175,35)(2195,34)(2195,33)(2205,33)(2215,33)(2205,32)(2175,31)(2190,31)(2215,31)(2225,30)(2215,29)
(2235,28)(2255,28)(2275,28)(2295,28)(2320,28)(2235,27)(2255,27)(2275,27)(2295,27)(2315,27)(2330,27)(2165,26)(2240,26)(2260,26)(2280,26)(2300,26)(2310,26)
(2290,25)(2305,25)(2320,25)(2335,25)(2310,29)
(2348,41)(2348,40)(2358,40)(2358,39)(2360,36)(2370,36)(2358,34)(2375,34)(2390,34)(2405,34)(2420,34)(2435,34)(2450,34)(2465,34)(2480,34)(2500,34)
(2358,33)(2375,33)(2395,33)(2415,33)(2435,33)(2455,33)(2475,33)(2490,33)(2460,35)(2490,32)(2510,32)
(2519,39)(2530,38)(2519,37)(2530,36)(2519,35)(2530,35)(2540,35)(2540,34)(2560,34)(2519,33)(2535,33)(2550,33)(2565,33)(2580,33)(2595,33)(2610,33)(2625,33)(2640,33)(2660,33)(2680,33)
(2540,32)(2560,32)(2580,32)(2600,32)(2620,32)(2640,32)(2660,32)(2680,32)(2585,31)(2610,31)(2630,31)(2660,31)(2530,30)(2530,29)(2600,35)(2700,33)
(2715,36)(2725,35)(2705,33)(2790,34)(2810,34)(2830,34)(2790,35)(2810,35)(2830,35)(2850,35)(2877,35)
};
\end{axis}

% masks for cropped sub-figure edges
\fill[white] (569pt,770pt) rectangle (584pt,799pt);
\fill[white] (568pt,400pt) rectangle (590pt,423pt);

% captions
\node[font=\fontsize{16}{19}\selectfont] at (290pt,759pt) {(a)};
\node[font=\fontsize{16}{19}\selectfont] at (865pt,759pt) {(b)};
\node[font=\fontsize{16}{19}\selectfont] at (282pt,389pt) {(c)};
\node[font=\fontsize{16}{19}\selectfont] at (866pt,389pt) {(d)};
\node[font=\fontsize{16}{19}\selectfont] at (290pt,11pt) {(e)};
\node[font=\fontsize{16}{19}\selectfont] at (862pt,11pt) {(f)};
\end{tikzpicture}
\end{document}
